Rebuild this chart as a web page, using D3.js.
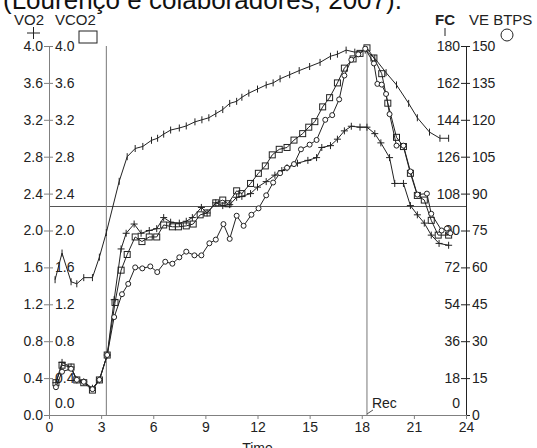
<!DOCTYPE html>
<html>
<head>
<meta charset="utf-8">
<script src="https://cdn.jsdelivr.net/npm/d3@7"></script>
<style>
  body { margin: 0; background: #fff; }
  svg { display: block; font-family: "Liberation Sans", Arial, sans-serif; }
</style>
</head>
<body>
<svg width="537" height="448"></svg>
<script>
// values (time in minutes)
const fcTime = [0.35, 0.75, 1.27, 1.6, 2.0, 2.5, 2.9, 3.3, 4.04, 4.5, 4.96, 5.4, 5.9, 6.25, 6.6, 7.0, 7.5, 7.9, 8.4, 8.8, 9.2, 9.6, 10.0, 10.4, 10.8, 11.1, 11.5, 12.0, 12.5, 12.9, 13.3, 13.85, 14.4, 15.0, 15.6, 16.2, 16.6, 17.1, 17.6, 18.2, 18.75, 19.4, 20.0, 20.7, 21.2, 21.9, 22.5, 23.0];
const fc = [66, 79, 65, 64, 67, 67, 77, 89, 114, 126, 130, 131, 134, 135, 137, 139, 140, 141, 143, 144, 145, 147, 149, 152, 153, 155, 157, 159, 161, 162, 164, 166, 168, 170, 172, 175, 176, 178, 177, 178, 174, 167, 161, 152, 145, 138, 135, 135];

const vo2Time = [0.4, 0.75, 1.27, 1.6, 2.0, 2.5, 2.9, 3.35, 3.75, 4.15, 4.44, 4.9, 5.3, 5.77, 6.2, 6.6, 7.0, 7.5, 7.9, 8.25, 8.77, 9.1, 9.6, 10.0, 10.4, 10.8, 11.1, 11.6, 12.0, 12.5, 13.0, 13.4, 13.7, 14.3, 14.9, 15.4, 15.7, 16.2, 16.6, 17.0, 17.4, 17.9, 18.3, 18.75, 19.1, 19.6, 19.9, 20.4, 20.8, 21.2, 21.6, 22.0, 22.45, 23.0];
const vo2 = [0.35, 0.57, 0.52, 0.38, 0.36, 0.29, 0.38, 0.65, 1.25, 1.80, 1.97, 2.07, 1.97, 2.00, 2.02, 2.14, 2.09, 2.08, 2.10, 2.14, 2.25, 2.19, 2.30, 2.27, 2.28, 2.36, 2.37, 2.40, 2.47, 2.53, 2.60, 2.65, 2.68, 2.73, 2.76, 2.79, 2.90, 2.92, 2.99, 3.08, 3.13, 3.12, 3.12, 3.05, 2.95, 2.79, 2.51, 2.51, 2.27, 2.17, 2.08, 1.95, 1.86, 1.84];

const vco2Time = [0.4, 0.75, 1.27, 1.6, 2.0, 2.5, 2.9, 3.35, 3.8, 4.15, 4.5, 4.96, 5.35, 5.77, 6.2, 6.6, 7.1, 7.45, 7.9, 8.3, 8.7, 9.1, 9.6, 10.0, 10.3, 10.8, 11.1, 11.6, 12.05, 12.45, 12.85, 13.25, 13.7, 14.1, 14.6, 14.95, 15.3, 15.75, 16.15, 16.6, 17.0, 17.5, 17.9, 18.3, 18.7, 19.15, 19.5, 20.0, 20.4, 20.8, 21.2, 21.6, 22.0, 22.4, 23.0];
const vco2 = [0.35, 0.54, 0.52, 0.38, 0.35, 0.27, 0.38, 0.65, 1.22, 1.57, 1.74, 1.93, 1.88, 1.93, 1.93, 2.06, 2.04, 2.04, 2.05, 2.07, 2.17, 2.19, 2.30, 2.33, 2.29, 2.43, 2.40, 2.51, 2.62, 2.70, 2.82, 2.88, 2.90, 2.98, 3.05, 3.12, 3.18, 3.34, 3.44, 3.60, 3.76, 3.86, 3.92, 3.98, 3.87, 3.70, 3.38, 3.01, 2.91, 2.62, 2.38, 2.33, 2.11, 1.95, 1.95];

const veTime = [0.4, 0.75, 1.27, 1.6, 2.0, 2.5, 2.9, 3.35, 3.75, 4.2, 4.56, 4.96, 5.37, 5.83, 6.23, 6.69, 7.1, 7.5, 7.9, 8.37, 8.77, 9.23, 9.6, 10.04, 10.4, 10.8, 11.2, 11.65, 12.06, 12.5, 12.9, 13.3, 13.7, 14.1, 14.5, 15.0, 15.4, 15.9, 16.3, 16.7, 17.0, 17.4, 17.8, 18.2, 18.7, 18.9, 19.15, 19.4, 19.6, 20.0, 20.4, 20.8, 21.2, 21.75, 22.0, 22.6, 22.9, 23.1];
const ve = [11.3, 17.6, 18.8, 14.3, 13.5, 10.5, 14.3, 24.4, 39.8, 49.1, 53.3, 60.0, 59.6, 60.4, 58.1, 62.3, 61.5, 64.1, 66.4, 64.9, 64.9, 69.8, 71.3, 77.6, 71.6, 81.0, 76.9, 81.4, 84.0, 89.3, 94.5, 98.3, 100.5, 102.0, 108.0, 109.9, 111.8, 120.0, 121.9, 128.3, 138.0, 144.4, 146.6, 148.9, 142.9, 134.6, 134.3, 130.5, 122.3, 109.5, 109.5, 99.0, 89.6, 90.0, 81.8, 75.0, 75.8, 73.9];

// tick labels
const timeTicks = [0, 3, 6, 9, 12, 15, 18, 21, 24];
const gasTicks = [0, 0.4, 0.8, 1.2, 1.6, 2.0, 2.4, 2.8, 3.2, 3.6, 4.0];
const fcTicks = [0, 18, 36, 54, 72, 90, 108, 126, 144, 162, 180];
const veTicks = [0, 15, 30, 45, 60, 75, 90, 105, 120, 135, 150];

// markers on the chart: start of exercise, recovery, threshold (in VO2 units)
const exerciseStart = 3.3;
const recoveryStart = 18.3;
const thresholdLevel = 2.26;

const svg = d3.select("svg");
const ink = "#222";
const grey = "#808080";

const x = d3.scaleLinear().domain([0, 24]).range([49, 466]);
const yGas = d3.scaleLinear().domain([0, 4]).range([415, 46]);
const yFC = d3.scaleLinear().domain([0, 180]).range([415, 46]);
const yVE = d3.scaleLinear().domain([0, 150]).range([415, 46]);

// title, cut at the top of the picture
svg.append("text")
    .attr("x", 3).attr("y", 9)
    .attr("font-size", 26)
    .attr("fill", "#111")
    .text("(Lourenço e colaboradores, 2007).");

// reference lines
svg.append("line")
    .attr("x1", x(0)).attr("x2", x(24))
    .attr("y1", yGas(thresholdLevel)).attr("y2", yGas(thresholdLevel))
    .attr("stroke", "#555");
[exerciseStart, recoveryStart].forEach(t => {
    svg.append("line")
        .attr("x1", x(t)).attr("x2", x(t))
        .attr("y1", yGas(4)).attr("y2", yGas(0))
        .attr("stroke", "#777");
});

function styleAxis(g, color) {
    g.select(".domain").attr("stroke", color);
    g.selectAll(".tick line").attr("stroke", color);
    g.selectAll(".tick text").attr("fill", ink).attr("font-size", 14).attr("font-family", null);
}

// left axis: VO2 labels left, VCO2 labels right
const gVO2 = svg.append("g").attr("transform", `translate(${x(0)},0)`)
    .call(d3.axisLeft(yGas).tickValues(gasTicks).tickFormat(d3.format(".1f")).tickSizeOuter(0).tickSize(5).tickPadding(1));
styleAxis(gVO2, grey);
const gVCO2 = svg.append("g").attr("transform", `translate(${x(0)},0)`)
    .call(d3.axisRight(yGas).tickValues(gasTicks).tickFormat(d3.format(".1f")).tickSizeOuter(0).tickSize(4).tickPadding(2));
styleAxis(gVCO2, grey);
gVCO2.selectAll(".tick text").filter(d => d === 0).attr("y", -12);
gVCO2.selectAll(".tick line").filter(d => d === 0).remove();

// right axis: FC labels left, VE labels right
const gFC = svg.append("g").attr("transform", `translate(${x(24)},0)`)
    .call(d3.axisLeft(yFC).tickValues(fcTicks).tickSizeOuter(0).tickSize(5).tickPadding(1));
styleAxis(gFC, ink);
gFC.selectAll(".tick text").filter(d => d === 0).attr("y", -12);
gFC.selectAll(".tick line").filter(d => d === 0).remove();
const gVE = svg.append("g").attr("transform", `translate(${x(24)},0)`)
    .call(d3.axisRight(yVE).tickValues(veTicks).tickSizeOuter(0).tickSize(4).tickPadding(2));
styleAxis(gVE, ink);

// time axis
const gX = svg.append("g").attr("transform", `translate(0,${yGas(0)})`)
    .call(d3.axisBottom(x).tickValues(timeTicks).tickSizeOuter(0).tickSize(4).tickPadding(3));
styleAxis(gX, grey);

svg.append("text")
    .attr("x", x(12)).attr("y", 453)
    .attr("text-anchor", "middle").attr("font-size", 14).attr("fill", ink)
    .text("Time");

// "Rec" marker
svg.append("text")
    .attr("x", x(recoveryStart) + 5).attr("y", 408)
    .attr("font-size", 14).attr("fill", ink)
    .text("Rec");
svg.append("line")
    .attr("x1", x(recoveryStart)).attr("y1", 414)
    .attr("x2", x(recoveryStart) + 6).attr("y2", 410)
    .attr("stroke", "#555");

// series
function drawSeries(times, values, yScale) {
    const pts = times.map((t, i) => [x(t), yScale(values[i])]);
    svg.append("path")
        .attr("d", d3.line()(pts))
        .attr("fill", "none")
        .attr("stroke", ink)
        .attr("stroke-width", 1);
    return pts;
}

const fcPts = drawSeries(fcTime, fc, yFC);
const vo2Pts = drawSeries(vo2Time, vo2, yGas);
const vco2Pts = drawSeries(vco2Time, vco2, yGas);
const vePts = drawSeries(veTime, ve, yVE);

// FC: vertical ticks
svg.append("g").selectAll("line").data(fcPts).join("line")
    .attr("x1", d => d[0]).attr("x2", d => d[0])
    .attr("y1", d => d[1] - 3.5).attr("y2", d => d[1] + 3.5)
    .attr("stroke", ink);

// VO2: plus signs
svg.append("g").selectAll("path").data(vo2Pts).join("path")
    .attr("d", d => `M${d[0] - 3.5},${d[1]}H${d[0] + 3.5}M${d[0]},${d[1] - 3.5}V${d[1] + 3.5}`)
    .attr("stroke", ink);

// VCO2: squares
svg.append("g").selectAll("rect").data(vco2Pts).join("rect")
    .attr("x", d => d[0] - 3).attr("y", d => d[1] - 3)
    .attr("width", 6).attr("height", 6)
    .attr("fill", "none").attr("stroke", ink);

// VE: circles
svg.append("g").selectAll("circle").data(vePts).join("circle")
    .attr("cx", d => d[0]).attr("cy", d => d[1]).attr("r", 2.5)
    .attr("fill", "#fff").attr("stroke", ink);

// legend
const legend = svg.append("g").attr("font-size", 15).attr("fill", ink);
legend.append("text").attr("x", 14).attr("y", 25).text("VO2");
legend.append("text").attr("x", 55).attr("y", 25).text("VCO2");
legend.append("path").attr("d", "M27,33H40M33.5,27V39").attr("stroke", ink);
legend.append("rect").attr("x", 79).attr("y", 31).attr("width", 18).attr("height", 12)
    .attr("fill", "none").attr("stroke", ink);
legend.append("text").attr("x", 435).attr("y", 25).attr("font-weight", "bold").text("FC");
legend.append("text").attr("x", 469).attr("y", 25).text("VE BTPS");
legend.append("line").attr("x1", 445).attr("x2", 445).attr("y1", 28).attr("y2", 36).attr("stroke", ink);
legend.append("circle").attr("cx", 507).attr("cy", 35).attr("r", 6)
    .attr("fill", "none").attr("stroke", ink);
</script>
</body>
</html>
